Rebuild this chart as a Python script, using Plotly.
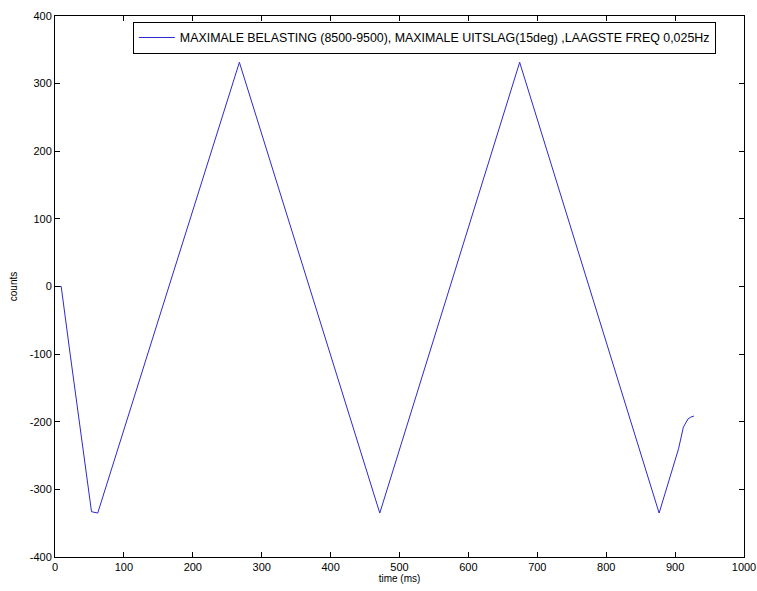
import plotly.graph_objects as go

time_ms = [0, 9, 22, 53, 62, 267.6, 471.4, 674.4, 876.8, 905, 912, 918.6, 923, 927.4]
counts = [0, 0, -100, -333, -335, 331.5, -335, 331.5, -335, -240, -208, -196, -193, -191.6]

x_ticks = [0, 100, 200, 300, 400, 500, 600, 700, 800, 900, 1000]
y_ticks = [-400, -300, -200, -100, 0, 100, 200, 300, 400]

legend_name = "MAXIMALE BELASTING (8500-9500), MAXIMALE UITSLAG(15deg) ,LAAGSTE FREQ 0,025Hz"

fig = go.Figure()
fig.add_trace(go.Scatter(x=time_ms, y=counts, mode="lines", name=legend_name,
                         line=dict(color="#2a2ad0", width=1), showlegend=True))

font = dict(family="Liberation Sans, Arial, sans-serif", size=11, color="#000000")
axis_common = dict(showgrid=False, zeroline=False, showline=True, linecolor="black", linewidth=1,
                   mirror="ticks", ticks="inside", ticklen=5, tickcolor="black",
                   tickfont=font, automargin=False)

fig.update_layout(
    width=757, height=591,
    margin=dict(l=55, r=13, t=16, b=34),
    paper_bgcolor="white", plot_bgcolor="white",
    font=font,
    xaxis=dict(range=[0, 1000], tickvals=x_ticks, ticktext=[str(v) for v in x_ticks],
               title=dict(text="time (ms)", font=dict(family="Liberation Sans, Arial, sans-serif", size=10, color="black"), standoff=2), **axis_common),
    yaxis=dict(range=[-400, 400], tickvals=y_ticks, ticktext=[str(v) for v in y_ticks],
               title=dict(text="counts", font=dict(family="Liberation Sans, Arial, sans-serif", size=10, color="black"), standoff=10), **axis_common),
    legend=dict(x=0.113, y=0.989, xanchor="left", yanchor="top", bordercolor="black", borderwidth=1,
                bgcolor="white", font=dict(family="Liberation Sans, Arial, sans-serif", size=12.4, color="black"),
                itemwidth=36),
    showlegend=True,
)

fig.write_html("out.html")
